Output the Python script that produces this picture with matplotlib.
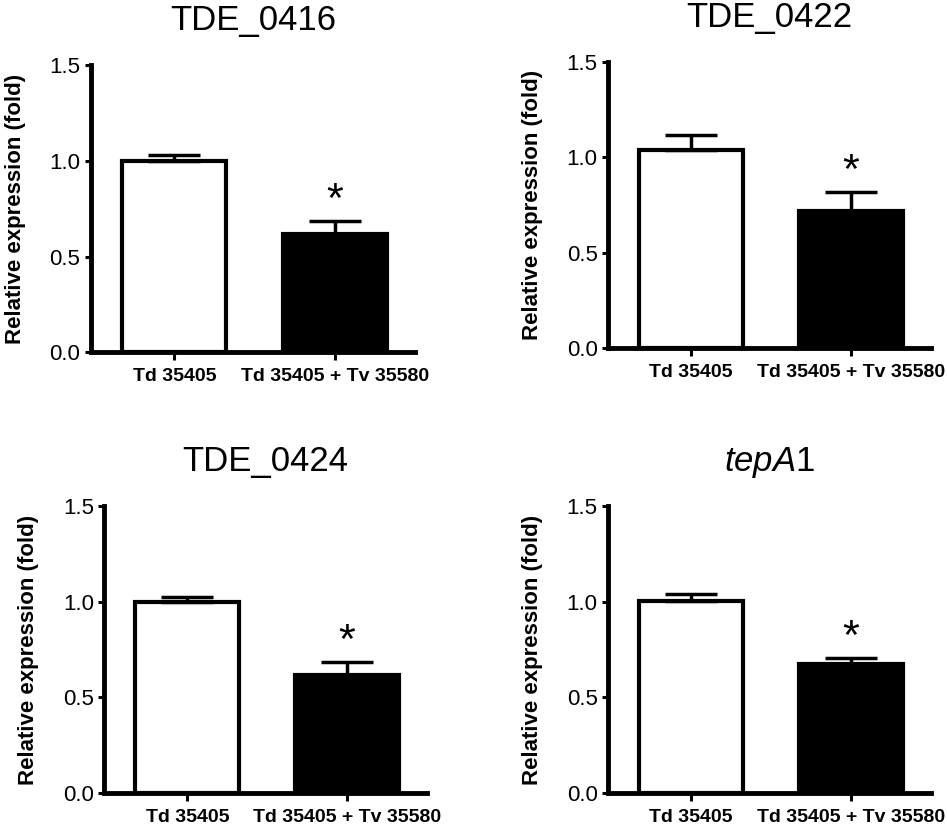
import matplotlib
matplotlib.use("Agg")
import matplotlib.pyplot as plt

plt.rcParams['font.family'] = ['Liberation Sans', 'DejaVu Sans']
plt.rcParams['mathtext.fontset'] = 'custom'
plt.rcParams['mathtext.rm'] = 'Liberation Sans'
plt.rcParams['mathtext.it'] = 'Liberation Sans:italic'

# data
titles = ['TDE_0416', 'TDE_0422', 'TDE_0424', r'$\it{tepA}$1']
groups = ['Td 35405', 'Td 35405 + Tv 35580']
means = [[1.00, 0.62], [1.04, 0.72], [1.00, 0.615], [1.005, 0.675]]
errs = [[0.03, 0.066], [0.075, 0.10], [0.025, 0.07], [0.038, 0.031]]
yticks = [0.0, 0.5, 1.0, 1.5]

# axes boxes in figure fraction (left, bottom, width, height)
boxes = [[0.096, 0.574, 0.342, 0.347],
         [0.642, 0.579, 0.341, 0.346],
         [0.110, 0.041, 0.341, 0.347],
         [0.642, 0.041, 0.341, 0.347]]

fig = plt.figure(figsize=(9.47, 8.27), dpi=100)

for i in range(4):
    ax = fig.add_axes(boxes[i])
    x = range(len(groups))
    ax.bar(x, means[i], width=0.65, color=['white', 'black'], edgecolor='black',
           linewidth=3.0, yerr=[[0, 0], errs[i]],
           error_kw=dict(elinewidth=2.5, capsize=19, capthick=2.5, ecolor='black'))
    # significance mark above the treated bar
    ax.annotate('*', xy=(1, means[i][1] + errs[i][1]), xytext=(0, 0),
                textcoords='offset points', ha='center', va='bottom',
                fontsize=31)
    ax.set_xlim(-0.52, 1.5)
    ax.set_ylim(0, 1.5)
    ax.set_yticks(yticks)
    ax.set_yticklabels(['%.1f' % t for t in yticks], fontsize=16)
    ax.set_xticks(list(x))
    ax.set_xticklabels(groups, fontsize=14, fontweight='bold')
    ax.set_ylabel('Relative expression (fold)', fontsize=16, fontweight='bold', labelpad=17)
    ax.set_title(titles[i], fontsize=25, pad=25.5)
    for s in ['top', 'right']:
        ax.spines[s].set_visible(False)
    for s in ['left', 'bottom']:
        ax.spines[s].set_linewidth(3.5)
    ax.tick_params(axis='y', length=4.5, width=2.2, pad=3)
    ax.tick_params(axis='x', length=5.5, width=2.2, pad=6)

fig.savefig('out.png', dpi=100)
